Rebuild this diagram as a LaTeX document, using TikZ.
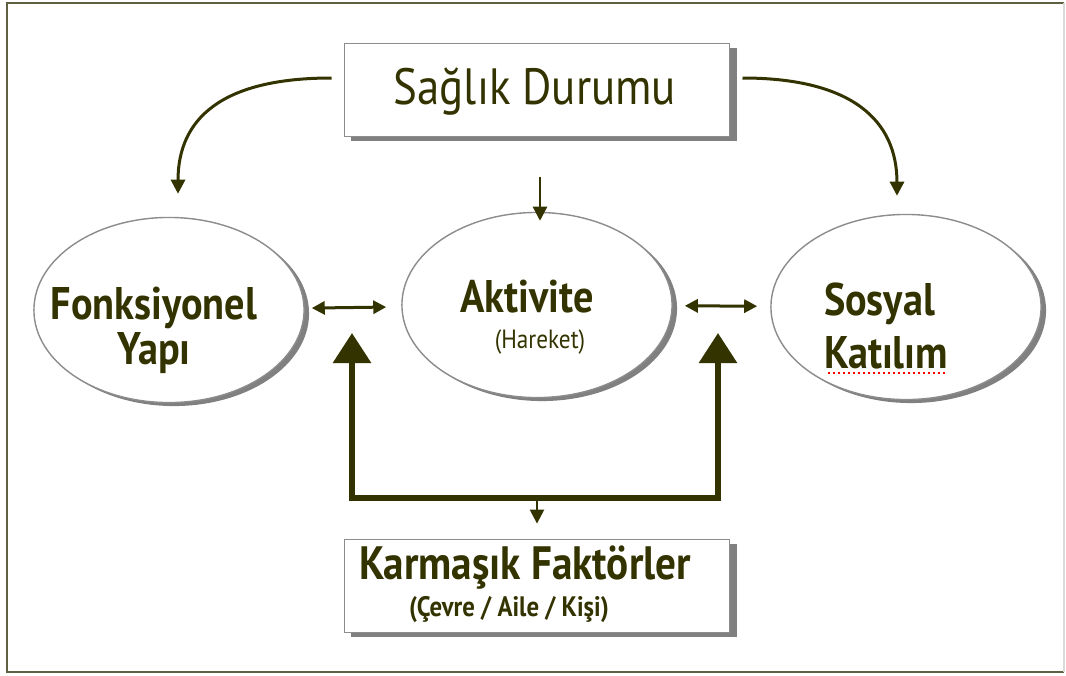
\documentclass[tikz,border=0pt]{standalone}
\usepackage{fontspec}
\setmainfont{PT Sans}[FakeStretch=0.88]
\usepackage{xcolor}
\usetikzlibrary{shapes.geometric,shadows,arrows.meta}
\definecolor{ink}{RGB}{51,51,0}
\definecolor{frameline}{RGB}{95,95,65}
\definecolor{rim}{RGB}{140,140,140}
\definecolor{shade}{RGB}{128,128,128}
\tikzstyle{bubble}=[ellipse, draw=rim, fill=white, line width=.4pt, minimum width=2.7cm, minimum height=1.85cm,
  general shadow={fill=shade, shadow xshift=.05cm, shadow yshift=-.035cm}]
\tikzstyle{panel}=[rectangle, draw=rim, fill=white, line width=.5pt, minimum width=3.85cm, minimum height=.93cm,
  general shadow={fill=shade, shadow xshift=.07cm, shadow yshift=-.045cm}]
\tikzset{words/.style={text=ink, inner sep=0pt}}
\tikzset{link/.style={-{Triangle[length=.14cm,width=.14cm]}, line width=.03cm, draw=ink}}
\tikzset{twoway/.style={{Triangle[length=.13cm,width=.13cm]}-{Triangle[length=.13cm,width=.13cm]}, line width=.03cm, draw=ink}}
\tikzset{feedback/.style={{Triangle[length=.3cm,width=.37cm]}-{Triangle[length=.3cm,width=.37cm]}, line width=.06cm, draw=ink, line join=miter}}

\begin{document}
\begin{tikzpicture}[x=.01cm,y=-.01cm]
  \useasboundingbox (0,0) rectangle (1066,675);
  %% Frame
  \draw[frameline, line width=.025cm] (1064,3) -- (7,3) -- (7,672) -- (1064,672);
  \draw[black!15, line width=.02cm] (1064,3) -- (1064,672);

  \draw (537,90) node[panel] (Health) {};
  \draw (169,310) node[bubble] (Func) {};
  \draw (537,305) node[bubble] (Act) {};
  \draw (906,307) node[bubble] (Social) {};
  \draw (537,586) node[panel] (Factors) {};

  \draw (535,92) node[words, font=\fontsize{14.5}{17}\selectfont] (HealthText) {Sağlık Durumu};
  \draw (154,330) node[words, font=\bfseries\fontsize{13}{11}\selectfont, align=center] (FuncText) {Fonksiyonel\\Yapı};
  \draw (527,297) node[words, font=\bfseries\fontsize{13}{15}\selectfont] (ActText) {Aktivite};
  \draw (540,342) node[words, font=\fontsize{7.5}{9}\selectfont] (ActNote) {(Hareket)};
  \draw (886,326) node[words, font=\bfseries\fontsize{13}{15}\selectfont, align=left] (SocialText) {Sosyal\\Katılım};
  \draw (525,568) node[words, font=\bfseries\fontsize{13.3}{15}\selectfont] (FactorsText) {Karmaşık Faktörler};
  \draw (509,610) node[words, font=\bfseries\fontsize{8}{10}\selectfont] (FactorsNote) {(Çevre / Aile / Kişi)};
  \draw[red, densely dotted, line width=.015cm] (828,373) -- (946,373);

  \draw[link] ([xshift=-.12cm,yshift=.12cm]Health.west) .. controls +(-110,0) and +(0,-75) .. ([xshift=.09cm,yshift=.23cm]Func.north);
  \draw[link] ([xshift=.12cm,yshift=.12cm]Health.east) .. controls +(110,0) and +(0,-75) .. ([xshift=-.09cm,yshift=.18cm]Social.north);
  \draw[link, line width=.022cm] ([xshift=.03cm,yshift=.35cm]Act.north) -- ([xshift=.03cm,yshift=-.09cm]Act.north);

  \draw[twoway, shorten <=.07cm, shorten >=.15cm] (Func) -- (Act);
  \draw[twoway, shorten <=.12cm, shorten >=.13cm] (Act) -- (Social);

  %% Feedback bracket
  \coordinate (Hub) at (537,498);
  \coordinate (LeftEnd) at (352,333);
  \coordinate (RightEnd) at (718,333);
  \draw[feedback] (LeftEnd) |- (Hub) -| (RightEnd);
  \draw[link, line width=.025cm] (Hub) -- ([yshift=.15cm]Factors.north);
\end{tikzpicture}
\end{document}
